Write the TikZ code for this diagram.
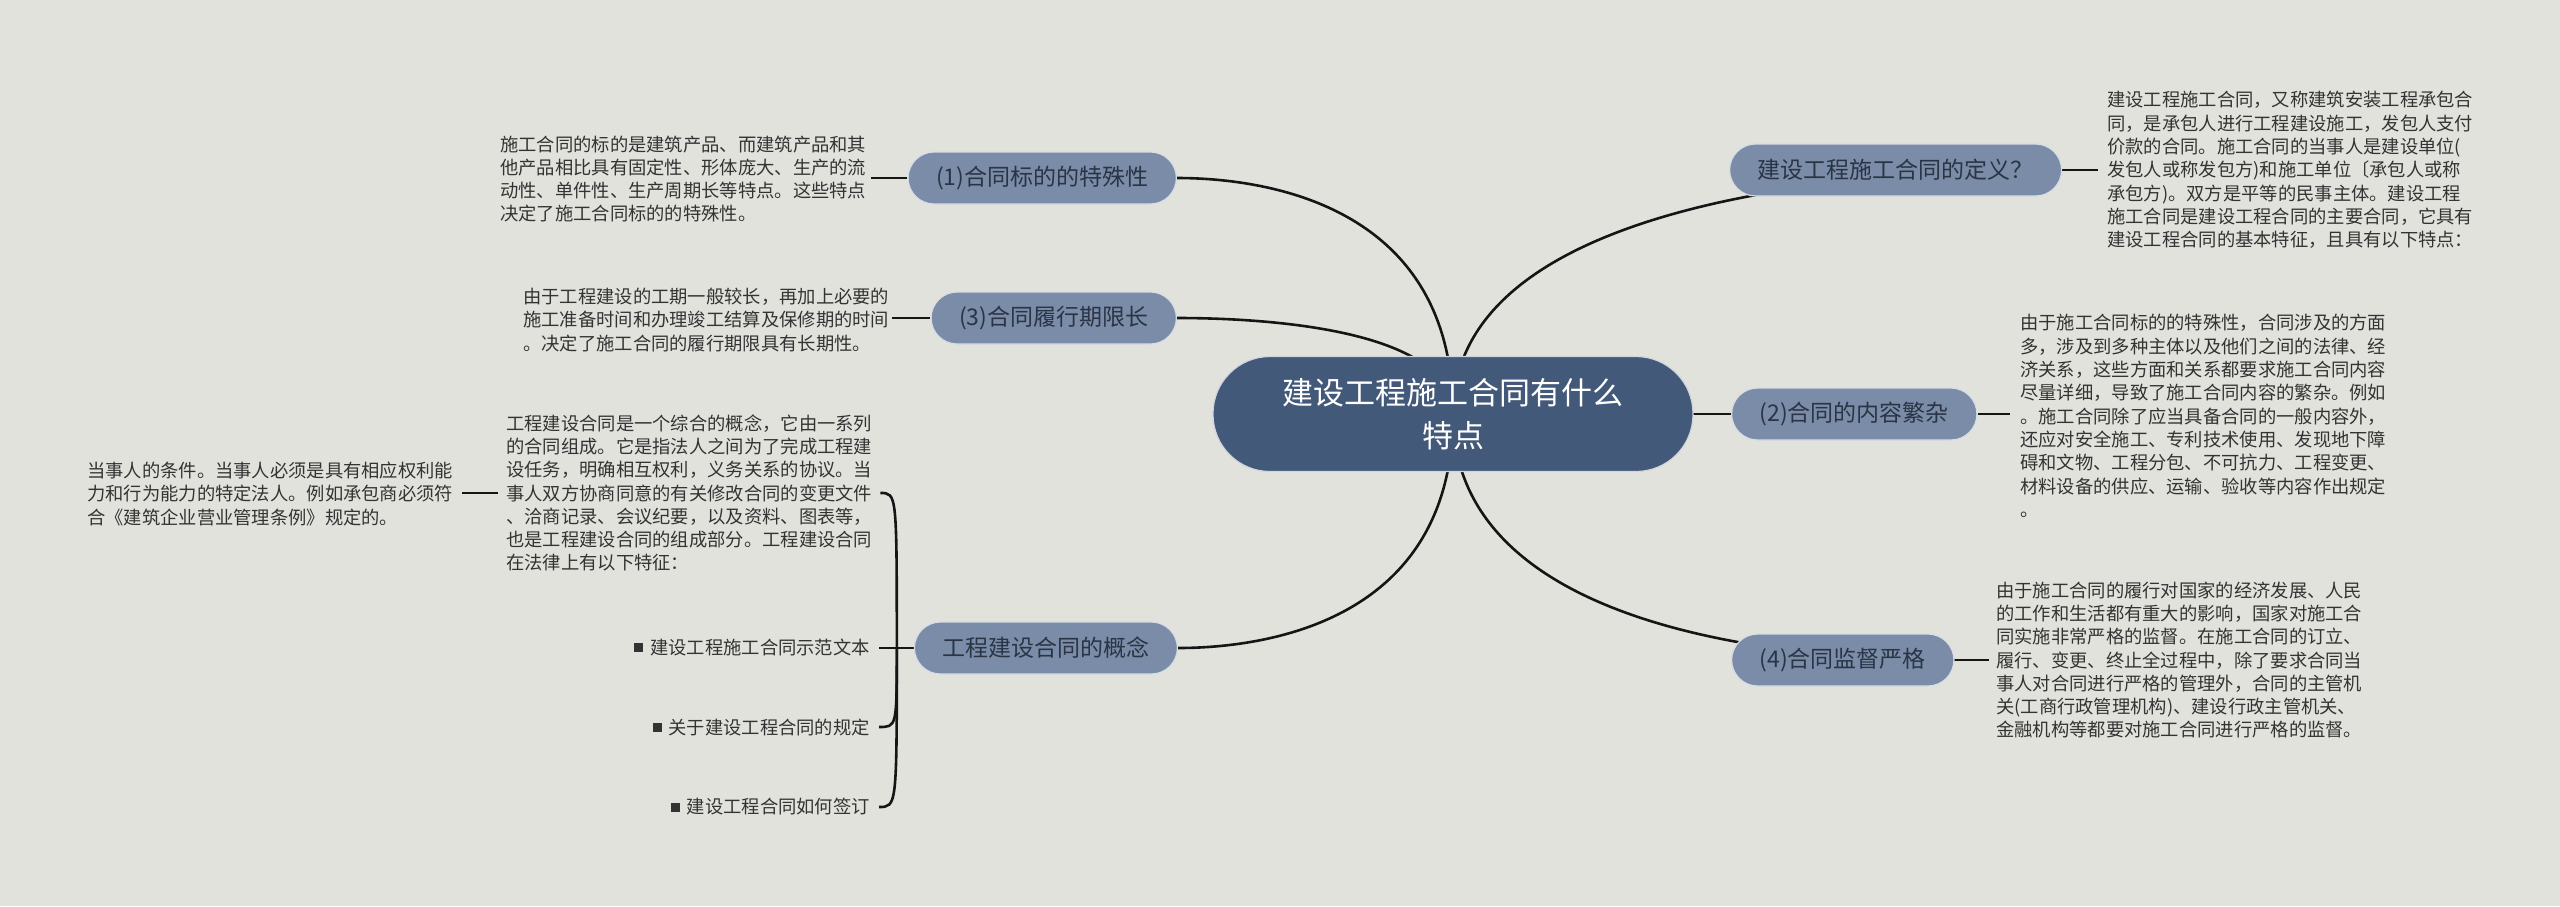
\documentclass[tikz,border=0pt]{standalone}
\usepackage{fontspec}
\setmainfont{Noto Sans CJK SC}
\usetikzlibrary{calc}
\pgfdeclarelayer{bg}
\pgfdeclarelayer{edges}
\pgfsetlayers{bg,edges,main}
\definecolor{bgc}{HTML}{E2E2DD}
\definecolor{rootc}{HTML}{435979}
\definecolor{branchc}{HTML}{7A8CA8}
\definecolor{txtc}{HTML}{333333}
\definecolor{btxt}{HTML}{2A3444}
\definecolor{linec}{HTML}{151515}
\tikzset{
  rootbox/.style={draw=white!75!rootc, line width=1.2pt, fill=rootc, text=white,
    rounded corners=57pt, minimum width=480pt, minimum height=115pt, align=center,
    inner sep=0pt, font=\fontsize{31}{43}\selectfont},
  branchbox/.style={draw=white!70!branchc, line width=1.2pt, fill=branchc, text=btxt,
    rounded corners=26pt, minimum height=52pt, inner xsep=28pt, inner ysep=0pt,
    font=\fontsize{23}{28}\selectfont},
  bodytext/.style={text=txtc, align=left, inner sep=0pt, font=\fontsize{18.3}{23.3}\selectfont},
  conn/.style={draw=linec, line width=2.6pt},
}
\newcommand{\bulletsq}{\textcolor{txtc}{\rule[2.4pt]{9pt}{9pt}}\hspace{7pt}}
\begin{document}
\begin{tikzpicture}[x=1pt,y=-1pt]
\begin{pgfonlayer}{bg}
\fill[bgc] (0,0) rectangle (2560,906);
\end{pgfonlayer}
\useasboundingbox (0,0) rectangle (2560,906);

% root
\node[rootbox] (c) at (1453,414) {建设工程施工合同有什么\\特点};

% left branches
\node[branchbox, anchor=east] (n1) at (1177,178) {(1)合同标的的特殊性};
\node[branchbox, anchor=east] (n3) at (1177,318) {(3)合同履行期限长};
\node[branchbox, anchor=east] (nk) at (1178,648) {工程建设合同的概念};

% right branches
\node[branchbox, anchor=west] (nd) at (1729,170) {建设工程施工合同的定义？};
\node[branchbox, anchor=west] (n2) at (1731,414) {(2)合同的内容繁杂};
\node[branchbox, anchor=west] (n4) at (1731,660) {(4)合同监督严格};

% texts
\node[bodytext, anchor=west] (t1) at (500,179) {施工合同的标的是建筑产品、而建筑产品和其\\他产品相比具有固定性、形体庞大、生产的流\\动性、单件性、生产周期长等特点。这些特点\\决定了施工合同标的的特殊性。};
\node[bodytext, anchor=west] (t3) at (523,320) {由于工程建设的工期一般较长，再加上必要的\\施工准备时间和办理竣工结算及保修期的时间\\。决定了施工合同的履行期限具有长期性。};
\node[bodytext, anchor=west] (kt) at (506,493) {工程建设合同是一个综合的概念，它由一系列\\的合同组成。它是指法人之间为了完成工程建\\设任务，明确相互权利，义务关系的协议。当\\事人双方协商同意的有关修改合同的变更文件\\、洽商记录、会议纪要，以及资料、图表等，\\也是工程建设合同的组成部分。工程建设合同\\在法律上有以下特征：};
\node[bodytext, anchor=west] (kd) at (87,494) {当事人的条件。当事人必须是具有相应权利能\\力和行为能力的特定法人。例如承包商必须符\\合《建筑企业营业管理条例》规定的。};
\node[bodytext, anchor=east] (b1) at (870,647) {\bulletsq 建设工程施工合同示范文本};
\node[bodytext, anchor=east] (b2) at (870,727) {\bulletsq 关于建设工程合同的规定};
\node[bodytext, anchor=east] (b3) at (870,807) {\bulletsq 建设工程合同如何签订};

\node[bodytext, anchor=west] (td) at (2107,170) {建设工程施工合同，又称建筑安装工程承包合\\同，是承包人进行工程建设施工，发包人支付\\价款的合同。施工合同的当事人是建设单位(\\发包人或称发包方)和施工单位〔承包人或称\\承包方)。双方是平等的民事主体。建设工程\\施工合同是建设工程合同的主要合同，它具有\\建设工程合同的基本特征，且具有以下特点：};
\node[bodytext, anchor=west] (t2) at (2020,416) {由于施工合同标的的特殊性，合同涉及的方面\\多，涉及到多种主体以及他们之间的法律、经\\济关系，这些方面和关系都要求施工合同内容\\尽量详细，导致了施工合同内容的繁杂。例如\\。施工合同除了应当具备合同的一般内容外，\\还应对安全施工、专利技术使用、发现地下障\\碍和文物、工程分包、不可抗力、工程变更、\\材料设备的供应、运输、验收等内容作出规定\\。};
\node[bodytext, anchor=west] (t4) at (1996,660) {由于施工合同的履行对国家的经济发展、人民\\的工作和生活都有重大的影响，国家对施工合\\同实施非常严格的监督。在施工合同的订立、\\履行、变更、终止全过程中，除了要求合同当\\事人对合同进行严格的管理外，合同的主管机\\关(工商行政管理机构)、建设行政主管机关、\\金融机构等都要对施工合同进行严格的监督。};

\coordinate (kp) at ($(nk.west)+(-17pt,0)$);

\begin{pgfonlayer}{edges}
% root to branches
\foreach \t in {n1,n3,nk,nd,n4}{
  \draw[conn] (c.center) .. controls ($(c.center |- \t.east)!0.1!(c.center)$)
     and ($(\t.east)!0.3!(c.center |- \t.east)$) .. (\t.east |- \t.center);
}
\draw[conn] (c.center) -- (n2.west);
% branch to texts
\draw[conn] (n1.west) -- ([xshift=5pt]t1.east |- n1.west);
\draw[conn] (n3.west) -- ([xshift=3pt]t3.east |- n3.west);
\draw[conn] (nd.east) -- ([xshift=-9pt]td.west |- nd.east);
\draw[conn] (n2.east) -- ([xshift=-10pt]t2.west |- n2.east);
\draw[conn] (n4.east) -- ([xshift=-7pt]t4.west |- n4.east);
% concept bracket
\draw[conn] (nk.west) -- (kp);
\draw[conn] (kp) .. controls (kp |- kt.east) .. ([xshift=8pt]kt.east);
\draw[conn] (kp) -- ([xshift=9pt]b1.east |- kp);
\draw[conn] (kp) .. controls (kp |- b2.east) .. ([xshift=9pt]b2.east);
\draw[conn] (kp) .. controls (kp |- b3.east) .. ([xshift=9pt]b3.east);
\draw[conn] ([xshift=-8pt]kt.west) -- ([xshift=9pt]kd.east |- kt.west);
\end{pgfonlayer}
\end{tikzpicture}
\end{document}
